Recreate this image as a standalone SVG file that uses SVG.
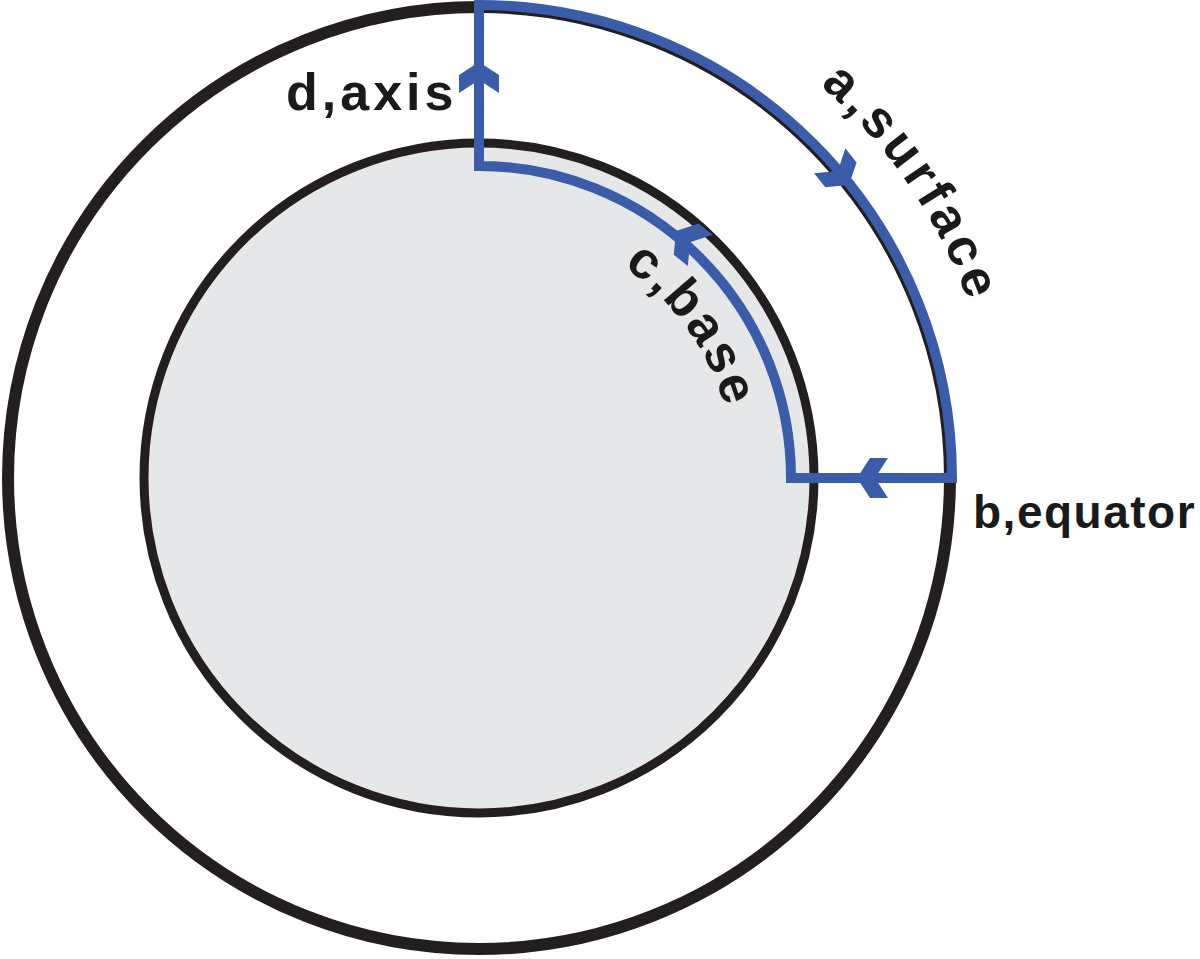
<svg xmlns="http://www.w3.org/2000/svg" xmlns:xlink="http://www.w3.org/1999/xlink" width="1200" height="959" viewBox="0 0 1200 959">
<style>
.ring{stroke:#231f20}
.blue{fill:none;stroke:#3b5ca9;stroke-width:10;stroke-linejoin:miter}
.arr{fill:#3b5ca9}
.lbl{font-family:"Liberation Sans",Arial,sans-serif;font-weight:bold;fill:#1a1a1a}
</style>
<defs>
<path id="chev" d="M0,0 L20,13 L20,31 L0,18 L-20,31 L-20,13 Z"/>
<path id="pathA" d="M479,-42 A520,520 0 0 1 999,478"/>
<path id="pathC" d="M479,222 A256,256 0 0 1 735,478"/>
</defs>
<rect width="1200" height="959" fill="#ffffff"/>
<g id="outer-circle">
<circle cx="479" cy="478" r="471" class="ring" fill="none" stroke-width="12"/>
</g>
<g id="inner-circle">
<circle cx="479" cy="478" r="335" class="ring" fill="#e6e7e9" stroke-width="9"/>
</g>
<g id="connectors">
<path class="blue" d="M479,5 A473,473 0 0 1 952,478 L791,478 A312,312 0 0 0 479,166 Z"/>
<use href="#chev" class="arr" transform="translate(479,62)"/>
<use href="#chev" class="arr" transform="translate(857,478) rotate(-90)"/>
<use href="#chev" class="arr" transform="translate(849,185) rotate(141.5)"/>
<use href="#chev" class="arr" transform="translate(676,231) rotate(-51.5)"/>
</g>
<g id="label-a">
<text class="lbl" font-size="52" letter-spacing="4.5" text-anchor="middle"><textPath href="#pathA" startOffset="506">a,surface</textPath></text>
</g>
<g id="label-b">
<text class="lbl" x="973" y="528" font-size="46" letter-spacing="1.5">b,equator</text>
</g>
<g id="label-c">
<text class="lbl" font-size="52" letter-spacing="3" text-anchor="middle"><textPath href="#pathC" startOffset="243">c,base</textPath></text>
</g>
<g id="label-d">
<text class="lbl" x="286" y="110" font-size="52" letter-spacing="4">d,axis</text>
</g>
</svg>
